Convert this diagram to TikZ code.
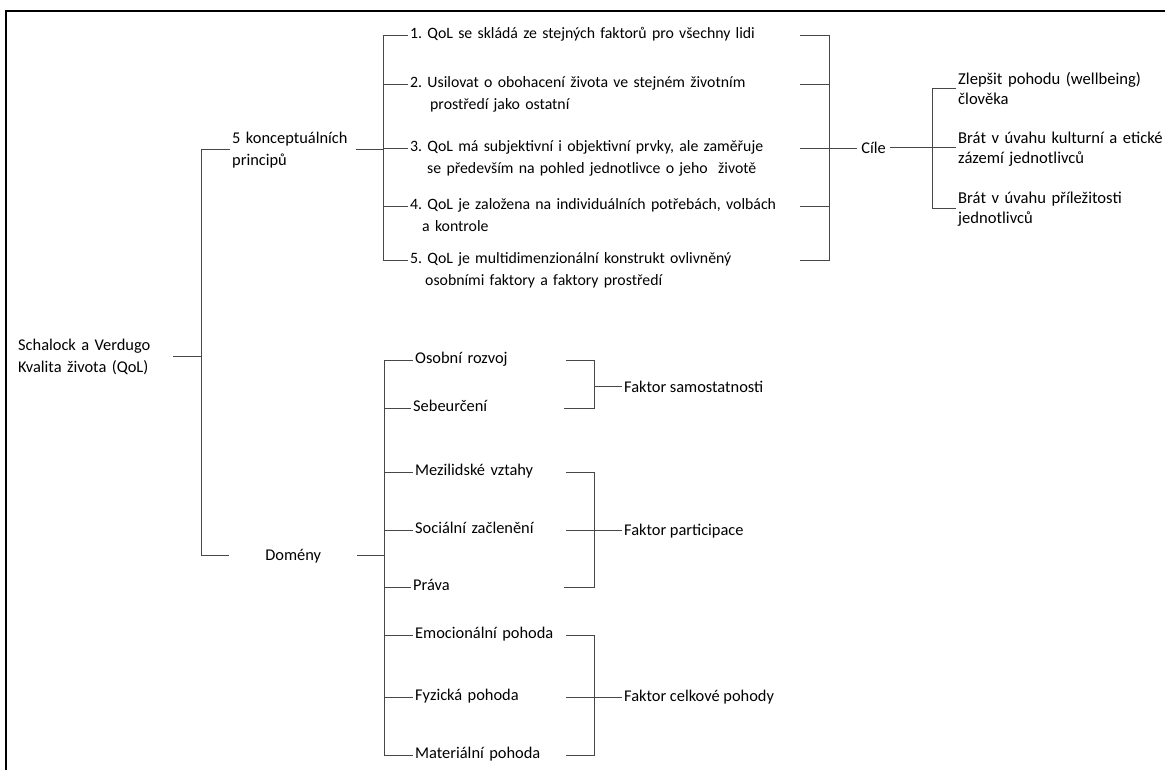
\documentclass[tikz,border=0pt]{standalone}
\usepackage{fontspec}
\setmainfont{Carlito}
\frenchspacing

\begin{document}
\begin{tikzpicture}[x=1pt, y=-1pt,
    every node/.style={font=\fontsize{16.4}{22}\selectfont, inner sep=2pt, anchor=base west},
    box/.style={align=left, text width=#1},
    princtext/.style={box=388pt, font=\fontsize{15.8}{22}\selectfont},
    goaltext/.style={box=205pt, font=\fontsize{16.6}{20}\selectfont},
    link/.style={draw=black!72, line width=0.9pt}]
    \useasboundingbox (0,0) rectangle (1165,769);

    % frame
    \draw[line width=2.4pt] (6,780) -- (6,11) -- (1175,11);

    % spine positions
    \coordinate (S0) at (201,0);
    \coordinate (S1) at (383,0);
    \coordinate (S2) at (829,0);
    \coordinate (S3) at (932,0);
    \coordinate (S4) at (384,0);
    \coordinate (S5) at (594,0);

    % root and first level
    \node[box=153pt] (root) at (16,350) {Schalock a Verdugo\\Kvalita života (QoL)};
    \node[box=122pt] (princ) at (230,143) {5 konceptuálních\\principů};
    \node[align=center, text width=124pt] (domeny) at (229,560) {Domény};

    % principles
    \node[princtext] (p1) at (408,38) {1. QoL se skládá ze stejných faktorů pro všechny lidi};
    \node[princtext] (p2) at (408,87) {2. Usilovat o obohacení života ve stejném životním\\\hspace*{20pt}prostředí jako ostatní};
    \node[princtext] (p3) at (408,151) {3. QoL má subjektivní i objektivní prvky, ale zaměřuje\\\hspace*{17pt}se především na pohled jednotlivce o jeho\ \ životě};
    \node[princtext] (p4) at (408,209) {4. QoL je založena na individuálních potřebách, volbách\\\hspace*{12pt}a kontrole};
    \node[princtext] (p5) at (408,263) {5. QoL je multidimenzionální konstrukt ovlivněný\\\hspace*{15pt}osobními faktory a faktory prostředí};

    % goals
    \node[minimum width=33pt] (cile) at (857,153) {Cíle};
    \node[goaltext] (g1) at (956,84) {Zlepšit pohodu (wellbeing)\\člověka};
    \node[goaltext] (g2) at (956,143) {Brát v úvahu kulturní a etické\\zázemí jednotlivců};
    \node[goaltext] (g3) at (956,203) {Brát v úvahu příležitosti\\jednotlivců};

    % domains
    \node[box=149pt] (d1) at (413,363) {Osobní rozvoj};
    \node[box=149pt] (d2) at (411,411) {Sebeurčení};
    \node[box=149pt] (d3) at (413,475) {Mezilidské vztahy};
    \node[box=149pt] (d4) at (413,533) {Sociální začlenění};
    \node[box=149pt] (d5) at (411,590) {Práva};
    \node[box=149pt] (d6) at (413,638) {Emocionální pohoda};
    \node[box=149pt] (d7) at (413,700) {Fyzická pohoda};
    \node[box=149pt] (d8) at (413,758) {Materiální pohoda};

    % factors
    \node (f1) at (622,392) {Faktor samostatnosti};
    \node (f2) at (622,535) {Faktor participace};
    \node (f3) at (622,701) {Faktor celkové pohody};

    % root comb
    \draw[link] (root.east) -- (root.east -| S0);
    \draw[link] (princ.west) -| (domeny.west -| S0) -- (domeny.west);

    % principles comb (left)
    \draw[link] (princ.east) -- (princ.east -| S1);
    \draw[link] (p1.mid west) -| (p5.mid west -| S1) -- (p5.mid west);
    \draw[link] (p2.mid west) -- (p2.mid west -| S1);
    \draw[link] (p3.mid west) -- (p3.mid west -| S1);
    \draw[link] (p4.mid west) -- (p4.mid west -| S1);

    % principles bracket (right)
    \draw[link] (p1.mid east) -| (p5.mid east -| S2) -- (p5.mid east);
    \draw[link] (p2.mid east) -- (p2.mid east -| S2);
    \draw[link] (p3.mid east) -- (p3.mid east -| cile.west);
    \draw[link] (p4.mid east) -- (p4.mid east -| S2);

    % goals comb
    \draw[link] (g1.west) -| (g3.west -| S3) -- (g3.west);
    \draw[link] (cile.east) -- (cile.east -| g2.west);

    % domains comb
    \draw[link] (domeny.east) -- (domeny.east -| S4);
    \draw[link] (d1.mid west) -| (d8.mid west -| S4) -- (d8.mid west);
    \draw[link] (d2.mid west) -- (d2.mid west -| S4);
    \draw[link] (d3.mid west) -- (d3.mid west -| S4);
    \draw[link] (d4.mid west) -- (d4.mid west -| S4);
    \draw[link] (d5.mid west) -- (d5.mid west -| S4);
    \draw[link] (d6.mid west) -- (d6.mid west -| S4);
    \draw[link] (d7.mid west) -- (d7.mid west -| S4);

    % factor brackets
    \draw[link] (d1.mid east) -| (d2.mid east -| S5) -- (d2.mid east);
    \draw[link] (f1.west -| S5) -- (f1.west);
    \draw[link] (d3.mid east) -| (d5.mid east -| S5) -- (d5.mid east);
    \draw[link] (d4.mid east) -- (d4.mid east -| f2.west);
    \draw[link] (d6.mid east) -| (d8.mid east -| S5) -- (d8.mid east);
    \draw[link] (d7.mid east) -- (d7.mid east -| f3.west);
\end{tikzpicture}
\end{document}
